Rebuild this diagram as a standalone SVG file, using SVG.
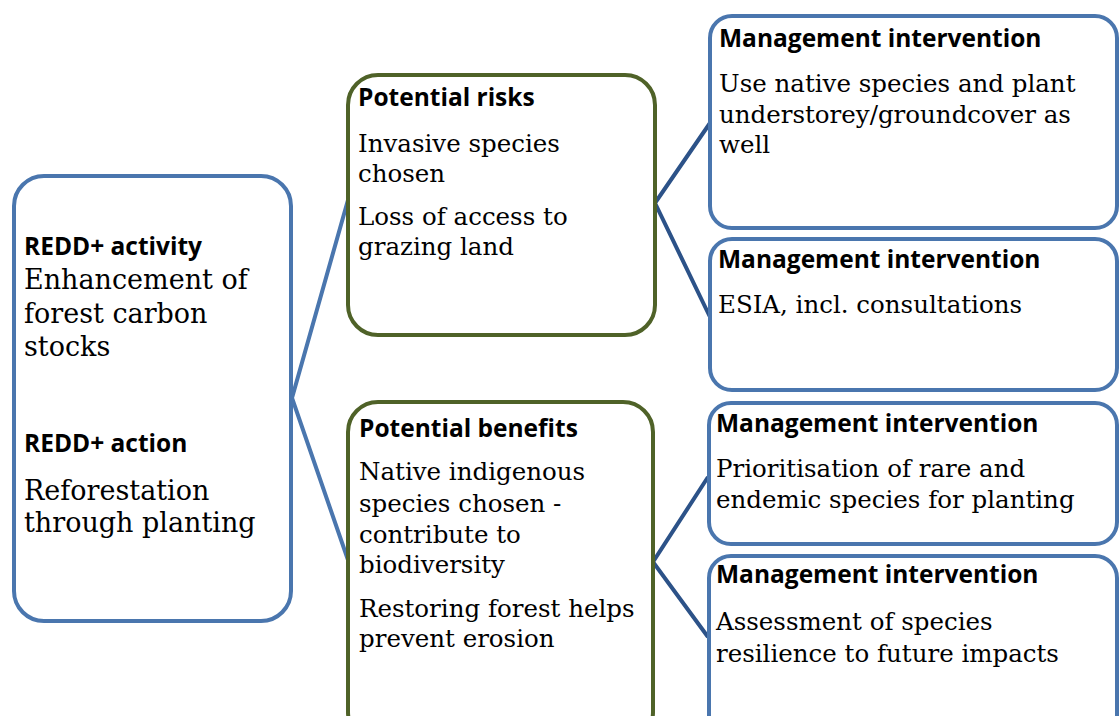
<svg xmlns="http://www.w3.org/2000/svg" width="1120" height="716" viewBox="0 0 1120 716">
<style>
.bl{fill:#fff;stroke:#4a76ae;stroke-width:4}
.gr{fill:#fff;stroke:#4f6228;stroke-width:4}
.h{font-family:"Open Sans","Liberation Sans",sans-serif;font-weight:bold;font-size:24.5px;fill:#000}
.t{font-family:"DejaVu Serif","Liberation Serif",serif;font-size:24.5px;fill:#000}
.tl{font-family:"DejaVu Serif","Liberation Serif",serif;font-size:27px;fill:#000}
.cl{fill:none;stroke:#4a76ae;stroke-width:4}
.cr{fill:none;stroke:#2c5288;stroke-width:4}
</style>
<rect width="1120" height="716" fill="#fff"/>
<g id="connectors">
<polyline class="cl" points="348,200 292,398 348,560"/>
<polyline class="cr" points="710,123 655,203 710,317"/>
<polyline class="cr" points="708,477 653,562 708,637"/>
</g>
<g id="redd">
<rect class="bl" x="14" y="176" width="277" height="445" rx="30"/>
<text class="h" x="24" y="255">REDD+ activity</text>
<text class="tl" x="24" y="289">Enhancement of</text>
<text class="tl" x="24" y="323">forest carbon</text>
<text class="tl" x="24" y="356">stocks</text>
<text class="h" x="24" y="452">REDD+ action</text>
<text class="tl" x="24" y="500">Reforestation</text>
<text class="tl" x="24" y="532">through planting</text>
</g>
<g id="risks">
<rect class="gr" x="348" y="75" width="307" height="260" rx="30"/>
<text class="h" x="358" y="106">Potential risks</text>
<text class="t" x="358" y="152">Invasive species</text>
<text class="t" x="358" y="182">chosen</text>
<text class="t" x="358" y="225">Loss of access to</text>
<text class="t" x="358" y="255">grazing land</text>
</g>
<g id="benefits">
<rect class="gr" x="348" y="402" width="305" height="340" rx="30"/>
<text class="h" x="359" y="437">Potential benefits</text>
<text class="t" x="359" y="480">Native indigenous</text>
<text class="t" x="359" y="512">species chosen -</text>
<text class="t" x="359" y="543">contribute to</text>
<text class="t" x="359" y="573">biodiversity</text>
<text class="t" x="359" y="617">Restoring forest helps</text>
<text class="t" x="359" y="647">prevent erosion</text>
</g>
<g id="mgmt1">
<rect class="bl" x="710" y="16" width="407" height="212" rx="22"/>
<text class="h" x="719" y="47">Management intervention</text>
<text class="t" x="719" y="92">Use native species and plant</text>
<text class="t" x="719" y="123">understorey/groundcover as</text>
<text class="t" x="719" y="153">well</text>
</g>
<g id="mgmt2">
<rect class="bl" x="710" y="239" width="407" height="151" rx="22"/>
<text class="h" x="718" y="268">Management intervention</text>
<text class="t" x="718" y="313">ESIA, incl. consultations</text>
</g>
<g id="mgmt3">
<rect class="bl" x="709" y="403" width="408" height="141" rx="22"/>
<text class="h" x="716" y="432">Management intervention</text>
<text class="t" x="716" y="477">Prioritisation of rare and</text>
<text class="t" x="716" y="508">endemic species for planting</text>
</g>
<g id="mgmt4">
<rect class="bl" x="709" y="556" width="408" height="190" rx="22"/>
<text class="h" x="716" y="583">Management intervention</text>
<text class="t" x="716" y="630">Assessment of species</text>
<text class="t" x="716" y="662">resilience to future impacts</text>
</g>
</svg>
